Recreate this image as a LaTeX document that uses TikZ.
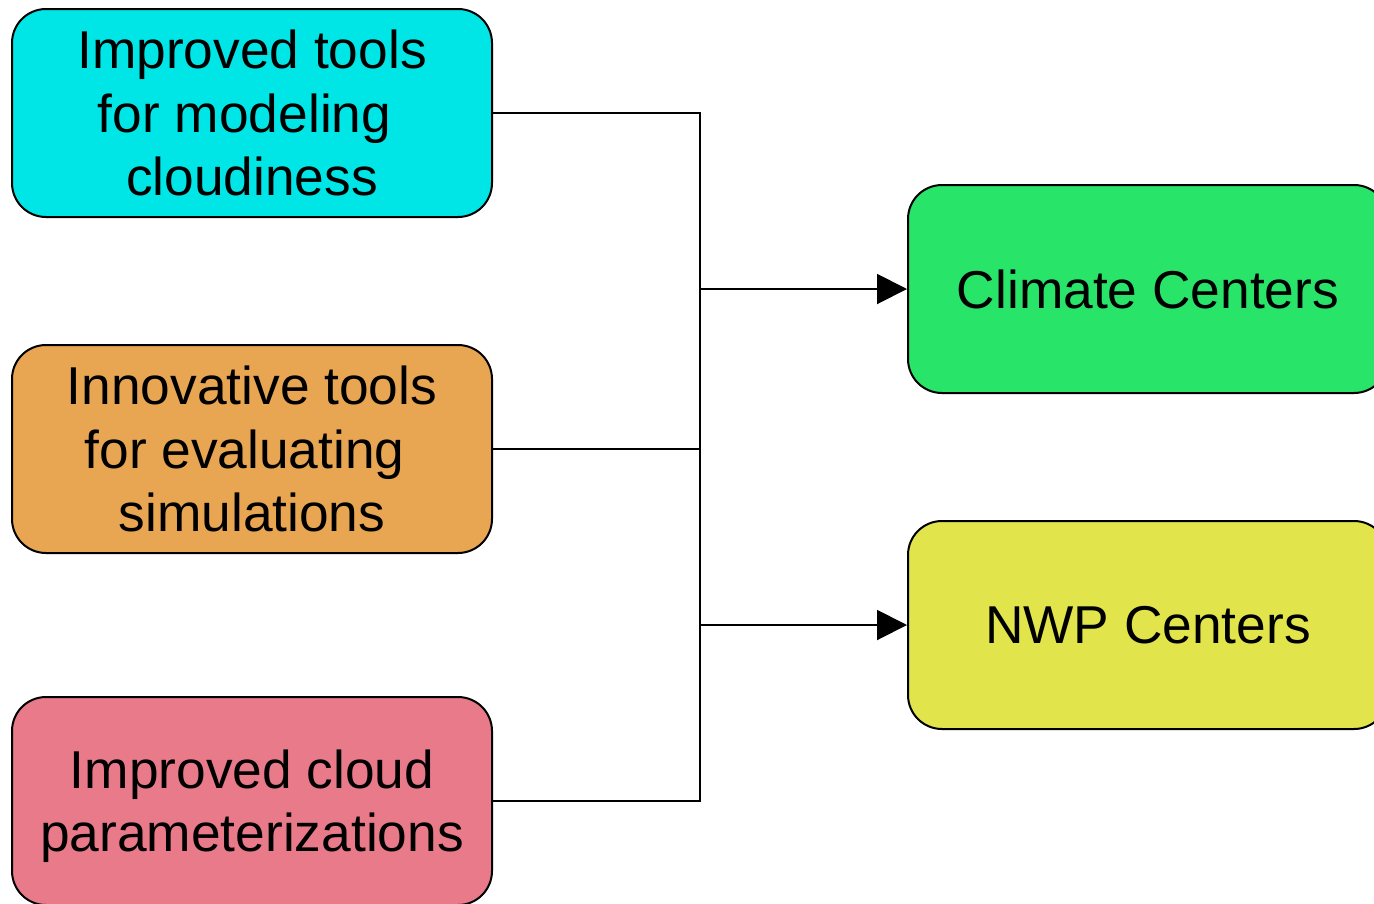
\documentclass[tikz,border=0pt]{standalone}
\usepackage{fontspec}
\setmainfont{Liberation Sans}
\usetikzlibrary{arrows.meta}
\definecolor{cyanbox}{RGB}{0,230,230}
\definecolor{orangebox}{RGB}{232,165,82}
\definecolor{pinkbox}{RGB}{232,122,138}
\definecolor{greenbox}{RGB}{40,228,105}
\definecolor{yellowbox}{RGB}{225,229,75}
\newcommand{\tsp}{\kern0.278em}
\newcommand{\lowr}[1]{\raisebox{-5pt}[\height][\depth]{#1}}
\tikzset{
  box/.style={draw=black, line width=2pt, rounded corners=34pt, minimum width=480pt, minimum height=208pt, inner sep=0pt, align=center, font=\fontsize{53.3}{63.5}\selectfont},
  conn/.style={draw=black, line width=2pt},
  arr/.style={conn, -{Triangle[length=30pt,width=30pt]}}
}
\begin{document}
\begin{tikzpicture}[x=1pt,y=-1pt]
\clip (0,0) rectangle (1374,903);
\node[box, fill=cyanbox] (b1) at (252,113) {Improved tools\\for modeling\tsp\\cloudiness};
\node[box, fill=orangebox] (b2) at (252,449) {Innovative tools\\for evaluating\tsp\\simulations};
\node[box, fill=pinkbox] (b3) at (252,801) {\lowr{Improved cloud}\\\lowr{parameterizations}};
\node[box, fill=greenbox] (c1) at (1148,289) {Climate Centers};
\node[box, fill=yellowbox] (c2) at (1148,625) {NWP Centers};
\coordinate (jx) at (700,0);
\draw[conn] (b1.east) -- (b1.east -| jx) |- (b3.east);
\draw[conn] (b2.east) -- (b2.east -| jx);
\draw[arr] (c1.west -| jx) -- (c1.west);
\draw[arr] (c2.west -| jx) -- (c2.west);
\end{tikzpicture}
\end{document}
